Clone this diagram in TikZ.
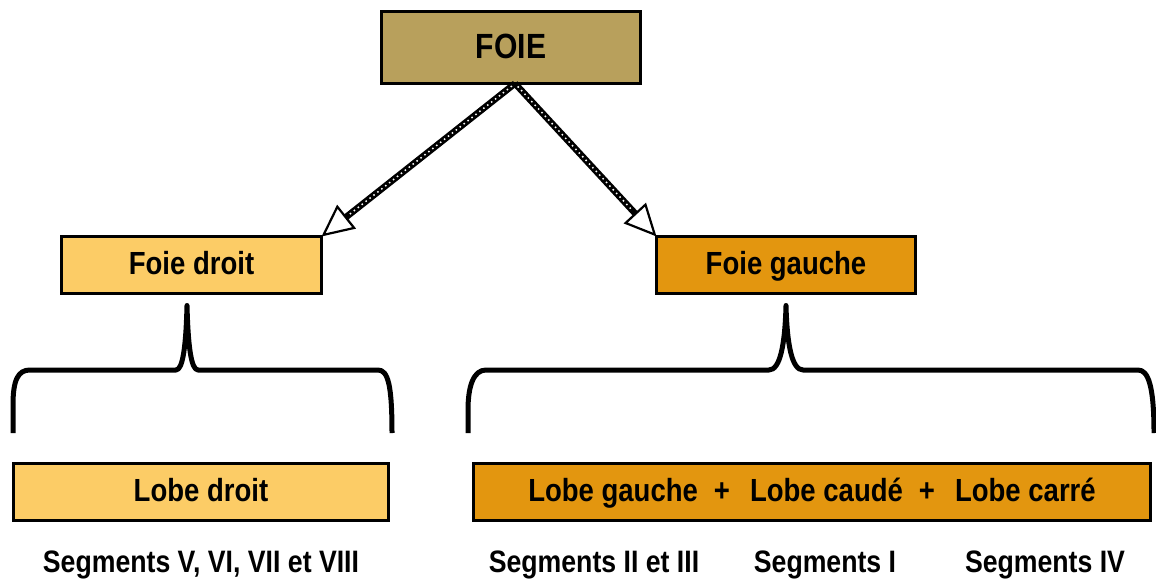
\documentclass[tikz,border=0pt]{standalone}
\usepackage{fontspec}
\setmainfont{Liberation Sans}[FakeStretch=0.86]
\usetikzlibrary{arrows.meta}
\definecolor{cFoie}{HTML}{B8A05C}
\definecolor{cLight}{HTML}{FCCC66}
\definecolor{cDark}{HTML}{E3960F}
\tikzset{
  box/.style={draw=black, line width=3pt, inner sep=0pt, outer sep=0pt, align=center,
    text height=23pt, text depth=4pt,
    font=\bfseries\fontsize{32}{36}\selectfont},
  lbl/.style={inner sep=0pt, font=\bfseries\fontsize{31}{36}\selectfont},
  conn/.style={line width=6.5pt, -{Triangle[length=32pt,width=30pt,line width=2.2pt,fill=white]}},
  connin/.style={white, line width=1.5pt, dash pattern=on 1.5pt off 3.5pt, shorten >=36pt, shorten <=4pt},
  brace/.style={line width=5pt, line cap=butt, line join=round},
}
\begin{document}
\begin{tikzpicture}[x=1pt,y=-1pt]
\useasboundingbox (0,0) rectangle (1156,588);
% boxes
\node[box, fill=cFoie, minimum width=259pt, minimum height=72pt, text height=26pt, text depth=3pt, font=\bfseries\fontsize{35}{40}\selectfont] (foie) at (511,47.5) {FOIE};
\node[box, fill=cLight, minimum width=260pt, minimum height=57pt] (fd) at (191.5,265) {Foie droit};
\node[box, fill=cDark, minimum width=259pt, minimum height=57pt] (fg) at (786,265) {Foie gauche};
\node[box, fill=cLight, minimum width=375pt, minimum height=57pt] (ld) at (201,492) {Lobe droit};
\node[box, fill=cDark, minimum width=677pt, minimum height=57pt] (lg) at (812,492) {Lobe gauche\hspace{16pt}+\hspace{20pt}Lobe caudé\hspace{16pt}+\hspace{20pt}Lobe carré};
% segment labels
\node[lbl] (s1) at (201,565) {Segments V, VI, VII et VIII};
\node[lbl] (s2) at (594,565) {Segments II et III};
\node[lbl] (s3) at (825,565) {Segments I};
\node[lbl] (s4) at (1045,565) {Segments IV};
% arrows
\coordinate (apex) at ([xshift=4pt]foie.south);
\draw[conn] (apex) -- (fd.north east);
\draw[conn] (apex) -- (fg.north west);
\draw[connin] (apex) -- (fd.north east);
\draw[connin] (apex) -- (fg.north west);
% braces
\coordinate (t1) at ([yshift=-12pt]fd.south -| 187,0);
\draw[brace] (13,433) -- (13,405) .. controls (13,380) and (18,370) .. (30,370) -- (176,370)
  .. controls (183,370) and (186,345) .. (t1)
  .. controls (188,345) and (191,370) .. (198,370) -- (378,370)
  .. controls (388,370) and (392,385) .. (392,433);
\coordinate (t2) at ([yshift=-12pt]fg.south);
\draw[brace] (468,433) -- (468,410) .. controls (468,385) and (474,370) .. (486,370) -- (769,370)
  .. controls (780,370) and (785,345) .. (t2)
  .. controls (787,345) and (792,370) .. (803,370) -- (1138,370)
  .. controls (1148,370) and (1154,385) .. (1154,433);
\end{tikzpicture}
\end{document}
